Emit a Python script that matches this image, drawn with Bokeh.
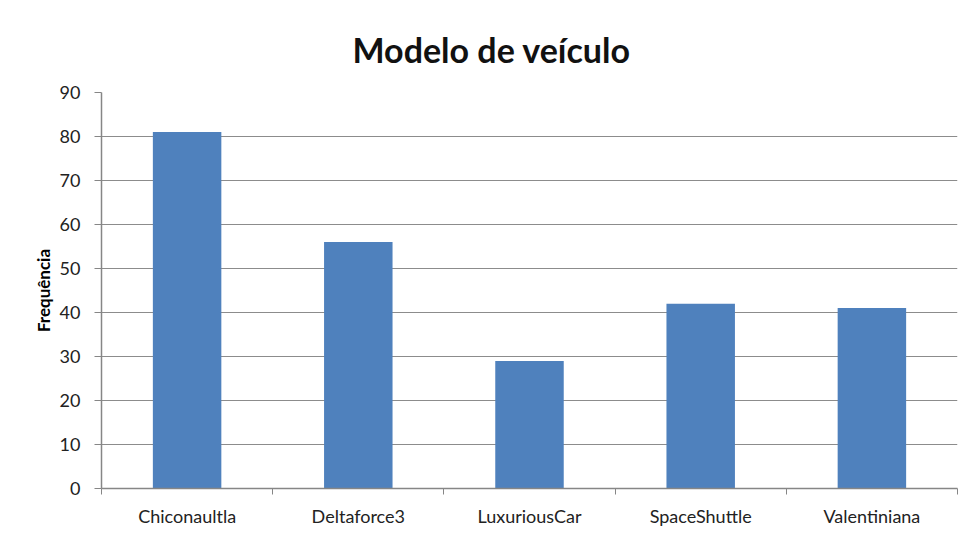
from bokeh.plotting import figure
from bokeh.models import FixedTicker, Range1d
from bokeh.embed import file_html
from bokeh.resources import INLINE

categories = ["Chiconaultla", "Deltaforce3", "LuxuriousCar", "SpaceShuttle", "Valentiniana"]
frequencies = [81, 56, 29, 42, 41]
y_ticks = [0, 10, 20, 30, 40, 50, 60, 70, 80, 90]

centers = [i + 0.5 for i in range(len(categories))]
bounds = list(range(len(categories) + 1))

FONT = "Lato"

p = figure(width=960, height=535, output_backend="svg", toolbar_location=None,
           x_range=Range1d(0, len(categories)), y_range=Range1d(0, 90),
           min_border_left=101, min_border_right=3, min_border_top=92, min_border_bottom=47,
           title="Modelo de veículo")
p.outline_line_color = None
p.background_fill_color = "white"
p.border_fill_color = "white"

p.title.text_font = FONT
p.title.text_font_size = "34px"
p.title.text_font_style = "bold"
p.title.text_color = "#111111"
p.title.align = "left"
p.title.offset = 251
p.title.standoff = 46

p.vbar(x=centers, top=frequencies, width=0.4, fill_color="#4f81bd", line_color=None)

# x axis
p.xaxis.ticker = FixedTicker(ticks=centers, minor_ticks=bounds)
p.xaxis.major_label_overrides = {c: lab for c, lab in zip(centers, categories)}
p.xaxis.major_tick_line_color = None
p.xaxis.minor_tick_out = 6
p.xaxis.minor_tick_in = 0
p.xaxis.minor_tick_line_color = "#868686"
p.xaxis.axis_line_color = "#868686"
p.xaxis.axis_line_width = 1.5
p.xaxis.major_label_text_font = FONT
p.xaxis.major_label_text_font_size = "18px"
p.xaxis.major_label_text_color = "#222222"
p.xaxis.major_label_standoff = 10
p.xgrid.grid_line_color = None

# y axis
p.yaxis.ticker = FixedTicker(ticks=y_ticks)
p.yaxis.minor_tick_line_color = None
p.yaxis.major_tick_out = 7
p.yaxis.major_tick_in = 0
p.yaxis.major_tick_line_color = "#868686"
p.yaxis.axis_line_color = "#868686"
p.yaxis.axis_line_width = 1.5
p.yaxis.major_label_text_font = FONT
p.yaxis.major_label_text_font_size = "18px"
p.yaxis.major_label_text_color = "#222222"
p.yaxis.major_label_standoff = 14
p.yaxis.axis_label = "Frequência"
p.yaxis.axis_label_text_font = FONT
p.yaxis.axis_label_text_font_size = "17px"
p.yaxis.axis_label_text_font_style = "bold"
p.yaxis.axis_label_text_color = "#000000"
p.yaxis.axis_label_standoff = 3
p.ygrid.grid_line_color = "#8c8c8c"
p.ygrid.grid_line_width = 1

open("out.html", "w").write(file_html(p, INLINE))
